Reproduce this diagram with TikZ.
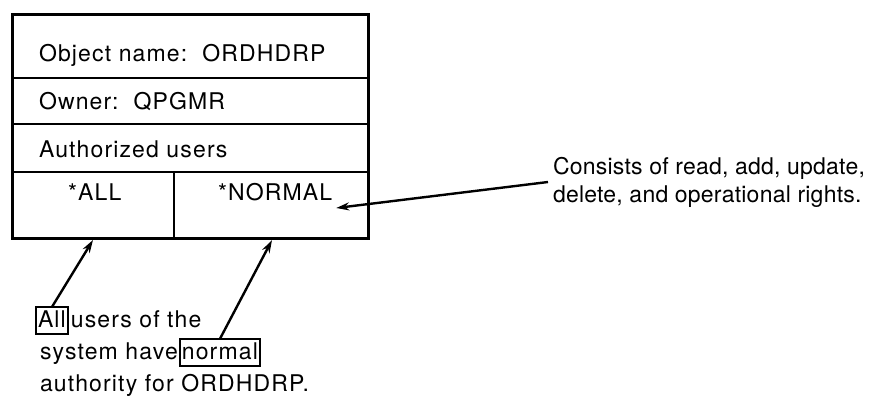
\documentclass[tikz,border=0pt]{standalone}
\usepackage{fontspec}
\setmainfont{TeX Gyre Heros}[LetterSpace=5]
\newfontfamily\notefont{TeX Gyre Heros}[LetterSpace=1]
\usetikzlibrary{arrows.meta}
\begin{document}
\begin{tikzpicture}[x=1pt,y=-1pt,
  every node/.style={inner sep=0pt, outer sep=0pt, font=\fontsize{23}{30}\selectfont},
  frame/.style={line width=3pt, line join=miter},
  rule/.style={line width=2pt},
  note/.style={anchor=base west, font=\notefont\fontsize{23}{30}\selectfont},
  pointer/.style={line width=2.4pt, -{Stealth[length=13pt,width=8pt]}},
  tag/.style={draw, line width=1.8pt, inner xsep=2pt, inner ysep=3pt,
              text height=17pt, text depth=4pt}]
\useasboundingbox (0,0) rectangle (877,397);

% object record box
\coordinate (tl) at (12,14);
\coordinate (br) at (368,238);
\draw[frame] (tl) rectangle (br);
\draw[rule] (12,78) -- (368,78);
\draw[rule] (12,124) -- (368,124);
\draw[rule] (12,172) -- (368,172);
\draw[rule] (174,172) -- (174,238);

% field texts
\node[anchor=base west] (objname) at (39,61) {Object name:\ \ ORDHDRP};
\node[anchor=base west] (owner) at (39,109) {Owner:\ \ QPGMR};
\node[anchor=base west] (authusers) at (39,157) {Authorized users};
\node[anchor=base west] (allval) at (68,200) {*ALL};
\node[anchor=base west] (normval) at (218,200) {*NORMAL};

% explanation on the right
\node[note] (cons1) at (553,174) {Consists of read, add, update,};
\node[note] (cons2) at (553,202) {delete, and operational rights.};

% explanation below
\node[tag, anchor=base west] (allbox) at (36,327) {All};
\node[anchor=base west] (line1) at ([xshift=3pt]allbox.base east) {users of the};
\node[anchor=base west] (line2) at (40,359) {system have};
\node[tag, anchor=base west] (normbox) at ([xshift=2pt]line2.base east) {normal};
\node[anchor=base west] (line3) at (40,391) {authority for ORDHDRP.};

% pointers
\coordinate (allTip) at (93,240);
\coordinate (normTip) at (272,240);
\draw[pointer] (allbox.north) -- (allTip);
\draw[pointer] (normbox.north) -- (normTip);
\draw[pointer] ([xshift=-5pt,yshift=-8pt]cons1.base west) -- ([xshift=4pt,yshift=-8pt]normval.base east);
\end{tikzpicture}
\end{document}
